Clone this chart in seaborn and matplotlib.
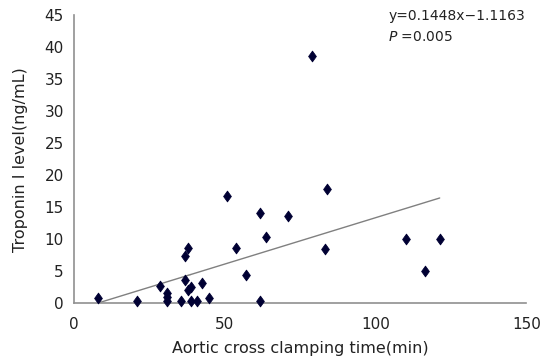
import numpy as np
import pandas as pd
import seaborn as sns
import matplotlib.pyplot as plt
from matplotlib.path import Path

# Data
clamp_time = [7.9, 20.9, 28.7, 30.8, 30.8, 30.8, 35.7, 36.9, 36.9, 37.8, 37.8,
              38.9, 38.9, 41.0, 42.6, 44.7, 50.8, 53.7, 57.0, 61.8, 61.8, 63.9,
              70.9, 79.1, 83.9, 83.2, 110.2, 121.3, 116.3]
troponin = [0.9, 0.4, 2.7, 1.6, 1.0, 0.4, 0.4, 3.6, 7.4, 8.6, 2.1,
            2.6, 0.4, 0.4, 3.1, 0.9, 16.8, 8.6, 4.5, 14.1, 0.4, 10.4,
            13.6, 38.6, 17.8, 8.5, 10.1, 10.1, 5.0]
slope, intercept = 0.1448, -1.1163

df = pd.DataFrame({'Time': clamp_time, 'TnI': troponin})
df['Fit'] = slope * df['Time'] + intercept
fit = df.sort_values('Time')

sns.set_style("white")
plt.rcParams['font.family'] = ['DejaVu Sans']

# tall diamond like the Excel marker
diamond = Path([(0, 1), (0.72, 0), (0, -1), (-0.72, 0), (0, 1)],
               [Path.MOVETO, Path.LINETO, Path.LINETO, Path.LINETO, Path.CLOSEPOLY])

fig = plt.figure(figsize=(5.54, 3.59), dpi=100)
ax = fig.add_axes([0.133, 0.155, 0.817, 0.803])

sns.lineplot(x='Time', y='Fit', data=fit, color='#808080', linewidth=1.0,
             ax=ax, sort=True)
sns.scatterplot(x='Time', y='TnI', data=df, marker=diamond, s=60,
                color='#000033', edgecolor='#000033', linewidth=0.6, ax=ax,
                zorder=3, clip_on=False)

ax.set_xlim(0, 150)
ax.set_ylim(0, 45)
ax.set_xticks([0, 50, 100, 150])
ax.set_yticks(range(0, 50, 5))
ax.tick_params(direction='in', length=4, color='#909090', labelsize=11,
               labelcolor='#222222')
ax.tick_params(axis='x', pad=10)
ax.tick_params(axis='y', pad=7)
for side in ['top', 'right']:
    ax.spines[side].set_visible(False)
for side in ['left', 'bottom']:
    ax.spines[side].set_color('#909090')
    ax.spines[side].set_linewidth(1.2)

ax.set_xlabel("Aortic cross clamping time(min)", fontsize=11.5, color='#222222',
              labelpad=6)
ax.set_ylabel("Troponin I level(ng/mL)", fontsize=11.5, color='#222222',
              labelpad=12)

ax.text(0.695, 0.996, "y=0.1448x\u22121.1163", transform=ax.transAxes,
        fontsize=10, color='#222222', va='center', ha='left')
ax.text(0.695, 0.924, "$\\it{P}$ =0.005", transform=ax.transAxes,
        fontsize=10, color='#222222', va='center', ha='left')

fig.savefig("out.png", dpi=100)
